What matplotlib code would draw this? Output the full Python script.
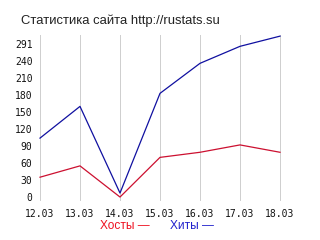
import numpy as np
import matplotlib
matplotlib.use("Agg")
import matplotlib.pyplot as plt

# data
dates = ["12.03", "13.03", "14.03", "15.03", "16.03", "17.03", "18.03"]
hosts = [35, 55, 0, 70, 79, 92, 79]
hits = [104, 160, 7, 183, 236, 266, 284]
ytick_vals = [0, 30, 60, 90, 120, 150, 180, 210, 240, 270]
ytick_labels = ["0", "30", "60", "90", "120", "150", "180", "210", "240", "291"]

W, H = 320, 240
fig = plt.figure(figsize=(W / 100, H / 100), dpi=100)
fig.patch.set_facecolor("white")

# axes in pixel terms
x0, x1 = 38, 282
y_top, y_bot = 35, 201
ax = fig.add_axes([x0 / W, (H - y_bot) / H, (x1 - x0) / W, (y_bot - y_top) / H])

x = np.arange(len(dates))
ax.plot(x, hits, color="#1010a0", lw=0.9)
ax.plot(x, hosts, color="#cc1030", lw=0.9)

pad = 2 / 240 * 6
ax.set_xlim(-pad, 6 + pad)
ax.set_ylim(-7, 286)

for s in ax.spines.values():
    s.set_visible(False)
ax.grid(axis="x", color="#cfcfcf", lw=0.72)
ax.set_axisbelow(True)

mono = "DejaVu Sans Mono"
ax.set_xticks(x)
ax.set_xticklabels(dates, fontfamily=mono, fontsize=7, color="#111111")
ax.set_yticks(ytick_vals)
ax.set_yticklabels(ytick_labels, fontfamily=mono, fontsize=7, color="#111111")
ax.tick_params(axis="both", length=0)
ax.tick_params(axis="x", pad=6)
ax.tick_params(axis="y", pad=4)

fig.text(21 / W, 1 - 21 / H, "Статистика сайта http://rustats.su",
         fontfamily="Liberation Sans", fontsize=9.4, color="#222222",
         ha="left", va="center")
fig.text(100 / W, 1 - 226 / H, "Хосты —", fontfamily="Liberation Sans",
         fontsize=8.6, color="#ee1020", ha="left", va="center")
fig.text(170 / W, 1 - 226 / H, "Хиты —", fontfamily="Liberation Sans",
         fontsize=8.6, color="#2020cc", ha="left", va="center")

fig.savefig("out.png", dpi=100)
